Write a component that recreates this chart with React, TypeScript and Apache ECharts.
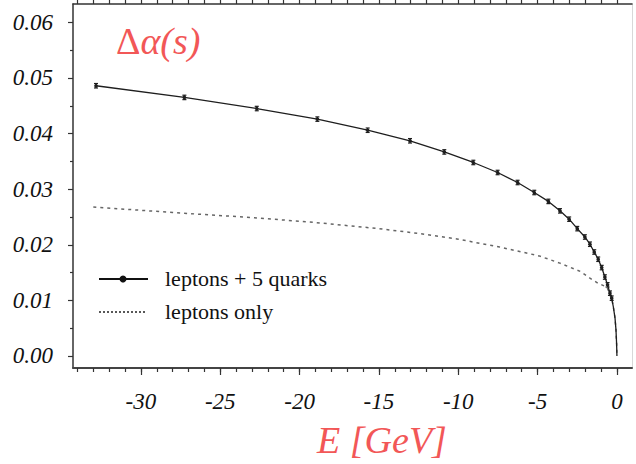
import React, { useEffect, useRef } from "react";
import * as echarts from "echarts";

// leptons + 5 quarks (points with error bars)
const quarkE = [-32.83, -27.26, -22.7, -18.88, -15.71, -13.04, -10.88, -9.05, -7.52, -6.26, -5.21, -4.32, -3.59, -3.01, -2.5, -2.02, -1.7, -1.43, -1.18, -0.96, -0.76, -0.59, -0.44, -0.33];
const quarkDA = [0.0486, 0.0465, 0.0445, 0.0426, 0.0406, 0.0387, 0.0367, 0.0348, 0.033, 0.0312, 0.0294, 0.0278, 0.0261, 0.0246, 0.0229, 0.0214, 0.0201, 0.0187, 0.0174, 0.0159, 0.0142, 0.0128, 0.0113, 0.0104];
const quarkErr = [0.0004, 0.0004, 0.0004, 0.0004, 0.0004, 0.0004, 0.0004, 0.0004, 0.0004, 0.0004, 0.0004, 0.0004, 0.0004, 0.0004, 0.0004, 0.0004, 0.0004, 0.0004, 0.0004, 0.0004, 0.0004, 0.0004, 0.0004, 0.0004];
// curve continuation to E = 0
const tailE = [-0.23, -0.12, -0.06, -0.02, 0];
const tailDA = [0.0089, 0.0068, 0.0047, 0.0022, 0];
// leptons only
const lepE = [-33.0, -28.0, -23.0, -19.0, -15.0, -12.4, -10.0, -7.4, -4.9, -3.6, -2.3, -1.7, -1.2, -0.65, -0.44, -0.33];
const lepDA = [0.0268, 0.0258, 0.0249, 0.024, 0.0229, 0.022, 0.021, 0.0196, 0.018, 0.0167, 0.0152, 0.014, 0.0131, 0.0124, 0.0113, 0.0104];

const xMajor = [-30, -25, -20, -15, -10, -5, 0];
const xMinor = [-34, -33, -32, -31, -30, -29, -28, -27, -26, -25, -24, -23, -22, -21, -20, -19, -18, -17, -16, -15, -14, -13, -12, -11, -10, -9, -8, -7, -6, -5, -4, -3, -2, -1, 0];
const yMajor = [0, 0.01, 0.02, 0.03, 0.04, 0.05, 0.06];
const yMinor = [0.005, 0.015, 0.025, 0.035, 0.045, 0.055];

const RED = "#f25757";
const SERIF = "Liberation Serif";

export default function App() {
  const ref = useRef<HTMLDivElement>(null);
  useEffect(() => {
    if (!ref.current) return;
    const chart = echarts.init(ref.current, null, { renderer: "svg" });
    const xMin = -34.28;
    const xMax = 0.95;
    const yMin = -0.00216;
    const yMax = 0.0633;
    const solidLine = quarkE.map((e, i) => [e, quarkDA[i]]).concat(tailE.map((e, i) => [e, tailDA[i]]));
    const dashLine = lepE.map((e, i) => [e, lepDA[i]]).concat(tailE.map((e, i) => [e, tailDA[i]]));
    const option: any = {
      animation: false,
      grid: { left: 73, right: 4, top: 4, bottom: 96 },
      xAxis: [
        {
          type: "value", min: xMin, max: xMax, position: "bottom",
          axisLine: { show: true, onZero: false, lineStyle: { color: "#444", width: 2 } },
          axisTick: { show: true, customValues: xMajor, length: 7, lineStyle: { color: "#333", width: 1.2 } },
          axisLabel: {
            customValues: xMajor, margin: 22, fontFamily: SERIF, fontStyle: "italic", fontSize: 23, color: "#111",
            formatter: (v: number) => String(v),
          },
          splitLine: { show: false },
        },
        {
          type: "value", min: xMin, max: xMax, position: "bottom",
          axisLine: { show: false, onZero: false },
          axisTick: { show: true, customValues: xMinor, length: 4, lineStyle: { color: "#333", width: 1.2 } },
          axisLabel: { show: false },
          splitLine: { show: false },
        },
        {
          type: "value", min: xMin, max: xMax, position: "top",
          axisLine: { show: true, onZero: false, lineStyle: { color: "#333", width: 1.5 } },
          axisTick: { show: true, customValues: xMinor, length: 4, lineStyle: { color: "#333", width: 1.2 } },
          axisLabel: { show: false },
          splitLine: { show: false },
        },
      ],
      yAxis: [
        {
          type: "value", min: yMin, max: yMax, position: "left",
          axisLine: { show: true, onZero: false, lineStyle: { color: "#333", width: 1.5 } },
          axisTick: { show: true, customValues: yMajor, length: 5, lineStyle: { color: "#333", width: 1.2 } },
          axisLabel: {
            customValues: yMajor, margin: 20, fontFamily: SERIF, fontStyle: "italic", fontSize: 23, color: "#111",
            formatter: (v: number) => v.toFixed(2),
          },
          splitLine: { show: false },
        },
        {
          type: "value", min: yMin, max: yMax, position: "left",
          axisLine: { show: false, onZero: false },
          axisTick: { show: true, customValues: yMinor, length: 3, lineStyle: { color: "#333", width: 1.2 } },
          axisLabel: { show: false },
          splitLine: { show: false },
        },
        {
          type: "value", min: yMin, max: yMax, position: "right",
          axisLine: { show: true, onZero: false, lineStyle: { color: "#d8d8d8", width: 1 } },
          axisTick: { show: false },
          axisLabel: { show: false },
          splitLine: { show: false },
        },
      ],
      series: [
        {
          type: "line", data: dashLine, showSymbol: false, symbol: "none",
          lineStyle: { color: "#666", width: 1.5, type: [3, 4] },
          z: 2,
        },
        {
          type: "line", data: solidLine, showSymbol: false, symbol: "none",
          lineStyle: { color: "#1e1e1e", width: 1.3 },
          z: 3,
        },
        {
          type: "custom",
          data: quarkE.map((e, i) => [e, quarkDA[i], quarkErr[i]]),
          encode: { x: 0, y: 1 },
          z: 4,
          renderItem: (params: any, api: any) => {
            const x = api.value(0);
            const y = api.value(1);
            const err = api.value(2);
            const c = api.coord([x, y]);
            const t = api.coord([x, y + err]);
            const b = api.coord([x, y - err]);
            const st = { stroke: "#1e1e1e", lineWidth: 1.2 };
            return {
              type: "group",
              children: [
                { type: "line", shape: { x1: t[0], y1: t[1], x2: b[0], y2: b[1] }, style: st },
                { type: "line", shape: { x1: t[0] - 2, y1: t[1], x2: t[0] + 2, y2: t[1] }, style: st },
                { type: "line", shape: { x1: b[0] - 2, y1: b[1], x2: b[0] + 2, y2: b[1] }, style: st },
                { type: "circle", shape: { cx: c[0], cy: c[1], r: 1.8 }, style: { fill: "#1e1e1e" } },
              ],
            };
          },
        },
      ],
      graphic: [
        {
          type: "text", left: 116, top: 22, z: 10,
          style: {
            text: "{a|Δ}{b|α(s)}",
            rich: {
              a: { fontFamily: SERIF, fontSize: 38, fill: RED },
              b: { fontFamily: SERIF, fontSize: 38, fontStyle: "italic", fill: RED },
            },
          },
        },
        {
          type: "text", x: 382, y: 440, z: 10,
          style: { text: "E [GeV]", fontFamily: SERIF, fontSize: 38, fontStyle: "italic", fill: RED, align: "center", verticalAlign: "middle" },
        },
        { type: "line", z: 10, shape: { x1: 99, y1: 279, x2: 148, y2: 279 }, style: { stroke: "#111", lineWidth: 2 } },
        { type: "circle", z: 10, shape: { cx: 123, cy: 279, r: 3.5 }, style: { fill: "#111" } },
        {
          type: "text", x: 165, y: 278, z: 10,
          style: { text: "leptons + 5 quarks", fontFamily: SERIF, fontSize: 22, fill: "#111", verticalAlign: "middle" },
        },
        { type: "line", z: 10, shape: { x1: 99, y1: 312, x2: 147, y2: 312 }, style: { stroke: "#222", lineWidth: 1.5, lineDash: [2, 2] } },
        {
          type: "text", x: 165, y: 311, z: 10,
          style: { text: "leptons only", fontFamily: SERIF, fontSize: 22, fill: "#111", verticalAlign: "middle" },
        },
      ],
    };
    chart.setOption(option);
    return () => chart.dispose();
  }, []);
  return <div ref={ref} style={{ position: "fixed", left: 0, top: 0, width: 636, height: 464, background: "#fff" }} />;
}
